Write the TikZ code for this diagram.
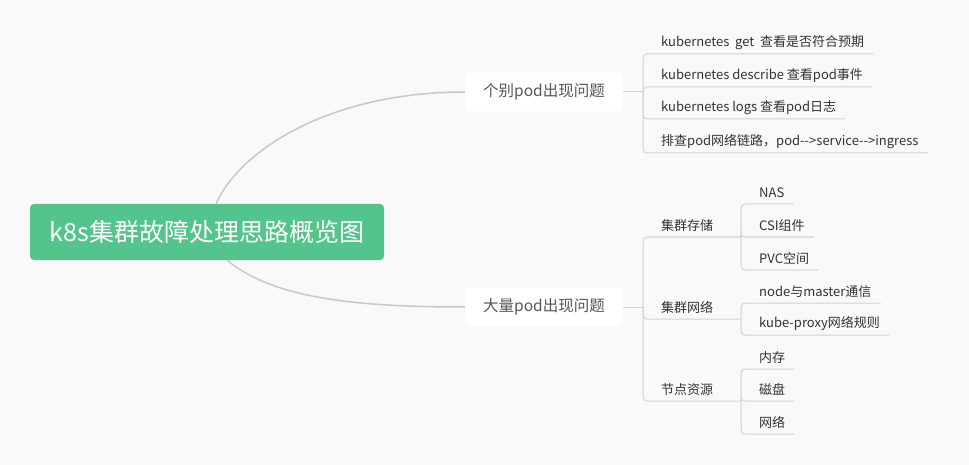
\documentclass[tikz,border=0pt]{standalone}
\usepackage{fontspec}
\setmainfont{Noto Sans CJK SC}
\definecolor{bgc}{HTML}{F9F9F9}
\definecolor{rootc}{HTML}{52C48C}
\definecolor{mainline}{HTML}{C8C8C8}
\definecolor{leafline}{HTML}{D2D2D2}
\definecolor{txt}{HTML}{333333}
\definecolor{btxt}{HTML}{555555}
\begin{document}
\begin{tikzpicture}[x=1pt,y=-1pt,
  rootbox/.style={fill=rootc, rounded corners=4pt, minimum width=354pt, minimum height=56pt,
    text=white, font=\fontsize{25pt}{28pt}\selectfont, inner sep=0pt},
  branchbox/.style={fill=white, rounded corners=5pt, minimum width=158pt, minimum height=39pt,
    text=btxt, font=\fontsize{15.5pt}{18pt}\selectfont, inner sep=0pt},
  leafbox/.style={anchor=south west, inner xsep=9pt, inner ysep=0pt, minimum height=23pt,
    text=txt, font=\fontsize{13pt}{15pt}\selectfont},
  mainconn/.style={draw=mainline, line width=1.5pt},
  conn/.style={draw=leafline, line width=1pt, rounded corners=4pt}
]
\fill[bgc] (0,0) rectangle (969,465);
\useasboundingbox (0,0) rectangle (969,465);

% root and branches
\node[rootbox] (root) at (207,232) {k8s集群故障处理思路概览图};
\node[branchbox] (b1) at (544,92) {个别pod出现问题};
\node[branchbox] (b2) at (544,307) {大量pod出现问题};

\draw[mainconn] ([xshift=9pt]root.north) .. controls (240,150) and (330,92) .. (b1.west);
\draw[mainconn] ([xshift=20pt]root.south) .. controls (270,295) and (340,307) .. (b2.west);

% branch 1
\coordinate (j1) at (643,92);
\draw[conn] (b1.east) -- (j1);
\node[leafbox] (a1) at (652,54) {kubernetes\ \ get\ \ 查看是否符合预期};
\node[leafbox] (a2) at (652,87) {kubernetes describe 查看pod事件};
\node[leafbox] (a3) at (652,119) {kubernetes logs 查看pod日志};
\node[leafbox] (a4) at (652,153) {排查pod网络链路，pod-\kern0pt->service-\kern0pt->ingress};
\foreach \n in {a1,a2,a3,a4}
  \draw[conn] (j1) |- (\n.south west) -- (\n.south east);

% branch 2
\coordinate (j2) at (643,307);
\draw[conn] (b2.east) -- (j2);
\node[leafbox] (s1) at (652,237) {集群存储};
\node[leafbox] (s2) at (652,319) {集群网络};
\node[leafbox] (s3) at (652,401) {节点资源};
\coordinate (k1) at (741,237);
\coordinate (k2) at (741,319);
\coordinate (k3) at (741,401);
\draw[conn] (j2) |- (s1.south west) -- (k1);
\draw[conn] (j2) |- (s2.south west) -- (k2);
\draw[conn] (j2) |- (s3.south west) -- (k3);

\node[leafbox] (c1) at (750,204) {NAS};
\node[leafbox] (c2) at (750,237) {CSI组件};
\node[leafbox] (c3) at (750,270) {PVC空间};
\foreach \n in {c1,c2,c3}
  \draw[conn] (k1) |- (\n.south west) -- (\n.south east);

\node[leafbox] (d1) at (750,303) {node与master通信};
\node[leafbox] (d2) at (750,335) {kube-proxy网络规则};
\foreach \n in {d1,d2}
  \draw[conn] (k2) |- (\n.south west) -- (\n.south east);

\node[leafbox] (e1) at (750,369) {内存};
\node[leafbox] (e2) at (750,401) {磁盘};
\node[leafbox] (e3) at (750,434) {网络};
\foreach \n in {e1,e2,e3}
  \draw[conn] (k3) |- (\n.south west) -- (\n.south east);
\end{tikzpicture}
\end{document}
